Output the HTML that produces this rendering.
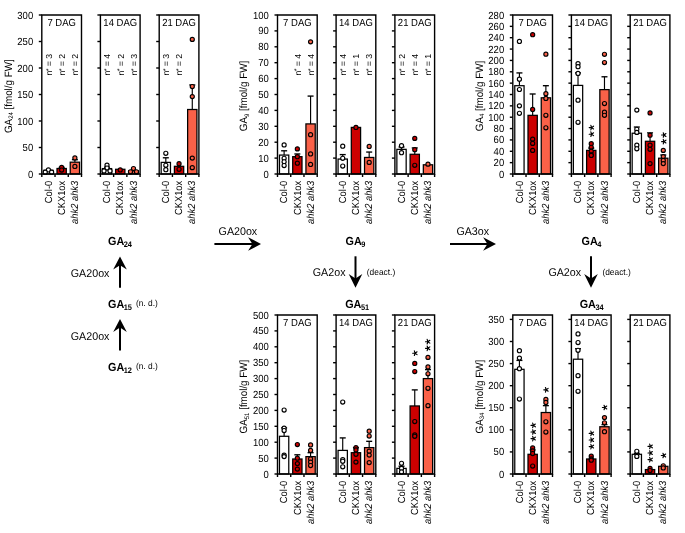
<!DOCTYPE html>
<html><head><meta charset="utf-8"><style>
html,body{margin:0;padding:0;background:#fff;}
svg{display:block;font-family:"Liberation Sans", sans-serif;will-change:transform;text-rendering:geometricPrecision;}
</style></head><body>
<svg width="685" height="533" viewBox="0 0 685 533" font-family='"Liberation Sans", sans-serif' fill="#000">
<rect width="685" height="533" fill="#fff"/>
<rect x="43.77" y="170.29" width="9.3" height="3.71" fill="#ffffff" stroke="#000" stroke-width="1.25"/>
<circle cx="48.42" cy="169.92" r="2.05" fill="#ffffff" stroke="#000" stroke-width="1.15"/>
<circle cx="45.22" cy="172.2" r="2.05" fill="#ffffff" stroke="#000" stroke-width="1.15"/>
<circle cx="51.62" cy="172.2" r="2.05" fill="#ffffff" stroke="#000" stroke-width="1.15"/>
<text transform="translate(51.72,75.5) rotate(-90)" font-size="8.7">n<tspan dy="-1.2" dx="-0.6" font-size="7.2">*</tspan><tspan dy="1.2" dx="-0.3"> = 3</tspan></text>
<line x1="61.65" y1="168.49" x2="61.65" y2="167.38" stroke="#000" stroke-width="1.15"/>
<line x1="58.65" y1="167.38" x2="64.65" y2="167.38" stroke="#000" stroke-width="1.35"/>
<rect x="57" y="168.49" width="9.3" height="5.51" fill="#cc0000" stroke="#000" stroke-width="1.25"/>
<circle cx="61.65" cy="167.38" r="2.05" fill="#cc0000" stroke="#000" stroke-width="1.15"/>
<circle cx="61.65" cy="170.08" r="2.05" fill="#cc0000" stroke="#000" stroke-width="1.15"/>
<text transform="translate(64.95,75.5) rotate(-90)" font-size="8.7">n<tspan dy="-1.2" dx="-0.6" font-size="7.2">*</tspan><tspan dy="1.2" dx="-0.3"> = 2</tspan></text>
<line x1="74.88" y1="162.18" x2="74.88" y2="159.69" stroke="#000" stroke-width="1.15"/>
<line x1="71.88" y1="159.69" x2="77.88" y2="159.69" stroke="#000" stroke-width="1.35"/>
<rect x="70.23" y="162.18" width="9.3" height="11.82" fill="#fa6148" stroke="#000" stroke-width="1.25"/>
<circle cx="74.88" cy="157.99" r="2.05" fill="#fa6148" stroke="#000" stroke-width="1.15"/>
<circle cx="74.88" cy="166.42" r="2.05" fill="#fa6148" stroke="#000" stroke-width="1.15"/>
<text transform="translate(78.18,75.5) rotate(-90)" font-size="8.7">n<tspan dy="-1.2" dx="-0.6" font-size="7.2">*</tspan><tspan dy="1.2" dx="-0.3"> = 2</tspan></text>
<path d="M41.8,174 V15 H81.5 V174 Z" fill="none" stroke="#000" stroke-width="1.4"/>
<line x1="38.8" y1="174" x2="41.8" y2="174" stroke="#000" stroke-width="1.4"/>
<line x1="38.8" y1="147.5" x2="41.8" y2="147.5" stroke="#000" stroke-width="1.4"/>
<line x1="38.8" y1="121" x2="41.8" y2="121" stroke="#000" stroke-width="1.4"/>
<line x1="38.8" y1="94.5" x2="41.8" y2="94.5" stroke="#000" stroke-width="1.4"/>
<line x1="38.8" y1="68" x2="41.8" y2="68" stroke="#000" stroke-width="1.4"/>
<line x1="38.8" y1="41.5" x2="41.8" y2="41.5" stroke="#000" stroke-width="1.4"/>
<line x1="38.8" y1="15" x2="41.8" y2="15" stroke="#000" stroke-width="1.4"/>
<line x1="41.8" y1="174" x2="41.8" y2="177" stroke="#000" stroke-width="1.4"/>
<line x1="55.03" y1="174" x2="55.03" y2="177" stroke="#000" stroke-width="1.4"/>
<line x1="68.27" y1="174" x2="68.27" y2="177" stroke="#000" stroke-width="1.4"/>
<line x1="81.5" y1="174" x2="81.5" y2="177" stroke="#000" stroke-width="1.4"/>
<text transform="translate(61.65,25.8) scale(1,1.08)" font-size="9.5" text-anchor="middle">7 DAG</text>
<text transform="translate(51.62,180.8) rotate(-90) scale(1,1.1)" font-size="9.35" text-anchor="end">Col-0</text>
<text transform="translate(64.85,180.8) rotate(-90) scale(1,1.1)" font-size="9.35" text-anchor="end">CKX1ox</text>
<text transform="translate(78.08,180.8) rotate(-90) scale(1,1.1)" font-size="9.35" text-anchor="end" font-style="italic">ahk2 ahk3</text>
<text transform="translate(33.2,177.5) scale(1,1.08)" font-size="9.5" text-anchor="end">0</text>
<text transform="translate(33.2,151) scale(1,1.08)" font-size="9.5" text-anchor="end">50</text>
<text transform="translate(33.2,124.5) scale(1,1.08)" font-size="9.5" text-anchor="end">100</text>
<text transform="translate(33.2,98) scale(1,1.08)" font-size="9.5" text-anchor="end">150</text>
<text transform="translate(33.2,71.5) scale(1,1.08)" font-size="9.5" text-anchor="end">200</text>
<text transform="translate(33.2,45) scale(1,1.08)" font-size="9.5" text-anchor="end">250</text>
<text transform="translate(33.2,18.5) scale(1,1.08)" font-size="9.5" text-anchor="end">300</text>
<text transform="translate(11.9,133) rotate(-90) scale(1,1.08)" font-size="9.8">GA<tspan font-size="6" dy="1.3">24</tspan><tspan dy="-1.3"> [fmol/g FW]</tspan></text>
<line x1="107.02" y1="168.59" x2="107.02" y2="167.11" stroke="#000" stroke-width="1.15"/>
<line x1="104.02" y1="167.11" x2="110.02" y2="167.11" stroke="#000" stroke-width="1.35"/>
<rect x="102.37" y="168.59" width="9.3" height="5.41" fill="#ffffff" stroke="#000" stroke-width="1.25"/>
<circle cx="107.02" cy="165.1" r="2.05" fill="#ffffff" stroke="#000" stroke-width="1.15"/>
<circle cx="107.02" cy="168.01" r="2.05" fill="#ffffff" stroke="#000" stroke-width="1.15"/>
<circle cx="104.02" cy="170.93" r="2.05" fill="#ffffff" stroke="#000" stroke-width="1.15"/>
<circle cx="110.02" cy="170.93" r="2.05" fill="#ffffff" stroke="#000" stroke-width="1.15"/>
<text transform="translate(110.32,75.5) rotate(-90)" font-size="8.7">n<tspan dy="-1.2" dx="-0.6" font-size="7.2">*</tspan><tspan dy="1.2" dx="-0.3"> = 4</tspan></text>
<rect x="115.6" y="169.28" width="9.3" height="4.72" fill="#cc0000" stroke="#000" stroke-width="1.25"/>
<circle cx="120.25" cy="169.92" r="2.05" fill="#cc0000" stroke="#000" stroke-width="1.15"/>
<text transform="translate(123.55,75.5) rotate(-90)" font-size="8.7">n<tspan dy="-1.2" dx="-0.6" font-size="7.2">*</tspan><tspan dy="1.2" dx="-0.3"> = 2</tspan></text>
<rect x="128.83" y="170.61" width="9.3" height="3.39" fill="#fa6148" stroke="#000" stroke-width="1.25"/>
<circle cx="133.48" cy="168.59" r="2.05" fill="#fa6148" stroke="#000" stroke-width="1.15"/>
<circle cx="130.48" cy="171.77" r="2.05" fill="#fa6148" stroke="#000" stroke-width="1.15"/>
<circle cx="136.48" cy="171.77" r="2.05" fill="#fa6148" stroke="#000" stroke-width="1.15"/>
<text transform="translate(136.78,75.5) rotate(-90)" font-size="8.7">n<tspan dy="-1.2" dx="-0.6" font-size="7.2">*</tspan><tspan dy="1.2" dx="-0.3"> = 3</tspan></text>
<path d="M100.4,174 V15 H140.1 V174 Z" fill="none" stroke="#000" stroke-width="1.4"/>
<line x1="97.4" y1="174" x2="100.4" y2="174" stroke="#000" stroke-width="1.4"/>
<line x1="97.4" y1="147.5" x2="100.4" y2="147.5" stroke="#000" stroke-width="1.4"/>
<line x1="97.4" y1="121" x2="100.4" y2="121" stroke="#000" stroke-width="1.4"/>
<line x1="97.4" y1="94.5" x2="100.4" y2="94.5" stroke="#000" stroke-width="1.4"/>
<line x1="97.4" y1="68" x2="100.4" y2="68" stroke="#000" stroke-width="1.4"/>
<line x1="97.4" y1="41.5" x2="100.4" y2="41.5" stroke="#000" stroke-width="1.4"/>
<line x1="97.4" y1="15" x2="100.4" y2="15" stroke="#000" stroke-width="1.4"/>
<line x1="100.4" y1="174" x2="100.4" y2="177" stroke="#000" stroke-width="1.4"/>
<line x1="113.63" y1="174" x2="113.63" y2="177" stroke="#000" stroke-width="1.4"/>
<line x1="126.87" y1="174" x2="126.87" y2="177" stroke="#000" stroke-width="1.4"/>
<line x1="140.1" y1="174" x2="140.1" y2="177" stroke="#000" stroke-width="1.4"/>
<text transform="translate(120.25,25.8) scale(1,1.08)" font-size="9.5" text-anchor="middle">14 DAG</text>
<text transform="translate(110.22,180.8) rotate(-90) scale(1,1.1)" font-size="9.35" text-anchor="end">Col-0</text>
<text transform="translate(123.45,180.8) rotate(-90) scale(1,1.1)" font-size="9.35" text-anchor="end">CKX1ox</text>
<text transform="translate(136.68,180.8) rotate(-90) scale(1,1.1)" font-size="9.35" text-anchor="end" font-style="italic">ahk2 ahk3</text>
<line x1="165.82" y1="162.39" x2="165.82" y2="157.78" stroke="#000" stroke-width="1.15"/>
<line x1="162.82" y1="157.78" x2="168.82" y2="157.78" stroke="#000" stroke-width="1.35"/>
<rect x="161.17" y="162.39" width="9.3" height="11.61" fill="#ffffff" stroke="#000" stroke-width="1.25"/>
<circle cx="165.82" cy="153.33" r="2.05" fill="#ffffff" stroke="#000" stroke-width="1.15"/>
<circle cx="165.82" cy="165.31" r="2.05" fill="#ffffff" stroke="#000" stroke-width="1.15"/>
<circle cx="165.82" cy="169.71" r="2.05" fill="#ffffff" stroke="#000" stroke-width="1.15"/>
<text transform="translate(169.12,75.5) rotate(-90)" font-size="8.7">n<tspan dy="-1.2" dx="-0.6" font-size="7.2">*</tspan><tspan dy="1.2" dx="-0.3"> = 3</tspan></text>
<rect x="174.4" y="166.31" width="9.3" height="7.69" fill="#cc0000" stroke="#000" stroke-width="1.25"/>
<circle cx="179.05" cy="163.72" r="2.05" fill="#cc0000" stroke="#000" stroke-width="1.15"/>
<circle cx="179.05" cy="169.28" r="2.05" fill="#cc0000" stroke="#000" stroke-width="1.15"/>
<text transform="translate(182.35,75.5) rotate(-90)" font-size="8.7">n<tspan dy="-1.2" dx="-0.6" font-size="7.2">*</tspan><tspan dy="1.2" dx="-0.3"> = 2</tspan></text>
<line x1="192.28" y1="109.5" x2="192.28" y2="84.96" stroke="#000" stroke-width="1.15"/>
<line x1="189.28" y1="84.96" x2="195.28" y2="84.96" stroke="#000" stroke-width="1.35"/>
<rect x="187.63" y="109.5" width="9.3" height="64.5" fill="#fa6148" stroke="#000" stroke-width="1.25"/>
<circle cx="192.28" cy="39.38" r="2.05" fill="#fa6148" stroke="#000" stroke-width="1.15"/>
<circle cx="192.28" cy="86.55" r="2.05" fill="#fa6148" stroke="#000" stroke-width="1.15"/>
<circle cx="192.28" cy="96.62" r="2.05" fill="#fa6148" stroke="#000" stroke-width="1.15"/>
<circle cx="192.28" cy="158.1" r="2.05" fill="#fa6148" stroke="#000" stroke-width="1.15"/>
<circle cx="192.28" cy="167.64" r="2.05" fill="#fa6148" stroke="#000" stroke-width="1.15"/>
<path d="M159.2,174 V15 H198.9 V174 Z" fill="none" stroke="#000" stroke-width="1.4"/>
<line x1="156.2" y1="174" x2="159.2" y2="174" stroke="#000" stroke-width="1.4"/>
<line x1="156.2" y1="147.5" x2="159.2" y2="147.5" stroke="#000" stroke-width="1.4"/>
<line x1="156.2" y1="121" x2="159.2" y2="121" stroke="#000" stroke-width="1.4"/>
<line x1="156.2" y1="94.5" x2="159.2" y2="94.5" stroke="#000" stroke-width="1.4"/>
<line x1="156.2" y1="68" x2="159.2" y2="68" stroke="#000" stroke-width="1.4"/>
<line x1="156.2" y1="41.5" x2="159.2" y2="41.5" stroke="#000" stroke-width="1.4"/>
<line x1="156.2" y1="15" x2="159.2" y2="15" stroke="#000" stroke-width="1.4"/>
<line x1="159.2" y1="174" x2="159.2" y2="177" stroke="#000" stroke-width="1.4"/>
<line x1="172.43" y1="174" x2="172.43" y2="177" stroke="#000" stroke-width="1.4"/>
<line x1="185.67" y1="174" x2="185.67" y2="177" stroke="#000" stroke-width="1.4"/>
<line x1="198.9" y1="174" x2="198.9" y2="177" stroke="#000" stroke-width="1.4"/>
<text transform="translate(179.05,25.8) scale(1,1.08)" font-size="9.5" text-anchor="middle">21 DAG</text>
<text transform="translate(169.02,180.8) rotate(-90) scale(1,1.1)" font-size="9.35" text-anchor="end">Col-0</text>
<text transform="translate(182.25,180.8) rotate(-90) scale(1,1.1)" font-size="9.35" text-anchor="end">CKX1ox</text>
<text transform="translate(195.48,180.8) rotate(-90) scale(1,1.1)" font-size="9.35" text-anchor="end" font-style="italic">ahk2 ahk3</text>
<line x1="284.12" y1="155.08" x2="284.12" y2="150.79" stroke="#000" stroke-width="1.15"/>
<line x1="281.12" y1="150.79" x2="287.12" y2="150.79" stroke="#000" stroke-width="1.35"/>
<rect x="279.47" y="155.08" width="9.3" height="18.92" fill="#ffffff" stroke="#000" stroke-width="1.25"/>
<circle cx="284.12" cy="144.9" r="2.05" fill="#ffffff" stroke="#000" stroke-width="1.15"/>
<circle cx="284.12" cy="158.26" r="2.05" fill="#ffffff" stroke="#000" stroke-width="1.15"/>
<circle cx="284.12" cy="161.76" r="2.05" fill="#ffffff" stroke="#000" stroke-width="1.15"/>
<circle cx="284.12" cy="165.57" r="2.05" fill="#ffffff" stroke="#000" stroke-width="1.15"/>
<line x1="297.35" y1="156.67" x2="297.35" y2="153.97" stroke="#000" stroke-width="1.15"/>
<line x1="294.35" y1="153.97" x2="300.35" y2="153.97" stroke="#000" stroke-width="1.35"/>
<rect x="292.7" y="156.67" width="9.3" height="17.33" fill="#cc0000" stroke="#000" stroke-width="1.25"/>
<circle cx="297.35" cy="148.88" r="2.05" fill="#cc0000" stroke="#000" stroke-width="1.15"/>
<circle cx="297.35" cy="156.67" r="2.05" fill="#cc0000" stroke="#000" stroke-width="1.15"/>
<circle cx="297.35" cy="163.19" r="2.05" fill="#cc0000" stroke="#000" stroke-width="1.15"/>
<text transform="translate(300.65,75.5) rotate(-90)" font-size="8.7">n<tspan dy="-1.2" dx="-0.6" font-size="7.2">*</tspan><tspan dy="1.2" dx="-0.3"> = 4</tspan></text>
<line x1="310.58" y1="123.91" x2="310.58" y2="96.09" stroke="#000" stroke-width="1.15"/>
<line x1="307.58" y1="96.09" x2="313.58" y2="96.09" stroke="#000" stroke-width="1.35"/>
<rect x="305.93" y="123.91" width="9.3" height="50.09" fill="#fa6148" stroke="#000" stroke-width="1.25"/>
<circle cx="310.58" cy="41.87" r="2.05" fill="#fa6148" stroke="#000" stroke-width="1.15"/>
<circle cx="310.58" cy="134.73" r="2.05" fill="#fa6148" stroke="#000" stroke-width="1.15"/>
<circle cx="310.58" cy="153.97" r="2.05" fill="#fa6148" stroke="#000" stroke-width="1.15"/>
<circle cx="310.58" cy="164.46" r="2.05" fill="#fa6148" stroke="#000" stroke-width="1.15"/>
<text transform="translate(313.88,75.5) rotate(-90)" font-size="8.7">n<tspan dy="-1.2" dx="-0.6" font-size="7.2">*</tspan><tspan dy="1.2" dx="-0.3"> = 4</tspan></text>
<path d="M277.5,174 V15 H317.2 V174 Z" fill="none" stroke="#000" stroke-width="1.4"/>
<line x1="274.5" y1="174" x2="277.5" y2="174" stroke="#000" stroke-width="1.4"/>
<line x1="274.5" y1="158.1" x2="277.5" y2="158.1" stroke="#000" stroke-width="1.4"/>
<line x1="274.5" y1="142.2" x2="277.5" y2="142.2" stroke="#000" stroke-width="1.4"/>
<line x1="274.5" y1="126.3" x2="277.5" y2="126.3" stroke="#000" stroke-width="1.4"/>
<line x1="274.5" y1="110.4" x2="277.5" y2="110.4" stroke="#000" stroke-width="1.4"/>
<line x1="274.5" y1="94.5" x2="277.5" y2="94.5" stroke="#000" stroke-width="1.4"/>
<line x1="274.5" y1="78.6" x2="277.5" y2="78.6" stroke="#000" stroke-width="1.4"/>
<line x1="274.5" y1="62.7" x2="277.5" y2="62.7" stroke="#000" stroke-width="1.4"/>
<line x1="274.5" y1="46.8" x2="277.5" y2="46.8" stroke="#000" stroke-width="1.4"/>
<line x1="274.5" y1="30.9" x2="277.5" y2="30.9" stroke="#000" stroke-width="1.4"/>
<line x1="274.5" y1="15" x2="277.5" y2="15" stroke="#000" stroke-width="1.4"/>
<line x1="277.5" y1="174" x2="277.5" y2="177" stroke="#000" stroke-width="1.4"/>
<line x1="290.73" y1="174" x2="290.73" y2="177" stroke="#000" stroke-width="1.4"/>
<line x1="303.97" y1="174" x2="303.97" y2="177" stroke="#000" stroke-width="1.4"/>
<line x1="317.2" y1="174" x2="317.2" y2="177" stroke="#000" stroke-width="1.4"/>
<text transform="translate(297.35,25.8) scale(1,1.08)" font-size="9.5" text-anchor="middle">7 DAG</text>
<text transform="translate(287.32,180.8) rotate(-90) scale(1,1.1)" font-size="9.35" text-anchor="end">Col-0</text>
<text transform="translate(300.55,180.8) rotate(-90) scale(1,1.1)" font-size="9.35" text-anchor="end">CKX1ox</text>
<text transform="translate(313.78,180.8) rotate(-90) scale(1,1.1)" font-size="9.35" text-anchor="end" font-style="italic">ahk2 ahk3</text>
<text transform="translate(268.9,177.5) scale(1,1.08)" font-size="9.5" text-anchor="end">0</text>
<text transform="translate(268.9,161.6) scale(1,1.08)" font-size="9.5" text-anchor="end">10</text>
<text transform="translate(268.9,145.7) scale(1,1.08)" font-size="9.5" text-anchor="end">20</text>
<text transform="translate(268.9,129.8) scale(1,1.08)" font-size="9.5" text-anchor="end">30</text>
<text transform="translate(268.9,113.9) scale(1,1.08)" font-size="9.5" text-anchor="end">40</text>
<text transform="translate(268.9,98) scale(1,1.08)" font-size="9.5" text-anchor="end">50</text>
<text transform="translate(268.9,82.1) scale(1,1.08)" font-size="9.5" text-anchor="end">60</text>
<text transform="translate(268.9,66.2) scale(1,1.08)" font-size="9.5" text-anchor="end">70</text>
<text transform="translate(268.9,50.3) scale(1,1.08)" font-size="9.5" text-anchor="end">80</text>
<text transform="translate(268.9,34.4) scale(1,1.08)" font-size="9.5" text-anchor="end">90</text>
<text transform="translate(268.9,18.5) scale(1,1.08)" font-size="9.5" text-anchor="end">100</text>
<text transform="translate(247.4,131.2) rotate(-90) scale(1,1.08)" font-size="9.8">GA<tspan font-size="6" dy="1.3">9</tspan><tspan dy="-1.3"> [fmol/g FW]</tspan></text>
<line x1="342.72" y1="159.05" x2="342.72" y2="154.6" stroke="#000" stroke-width="1.15"/>
<line x1="339.72" y1="154.6" x2="345.72" y2="154.6" stroke="#000" stroke-width="1.35"/>
<rect x="338.07" y="159.05" width="9.3" height="14.95" fill="#ffffff" stroke="#000" stroke-width="1.25"/>
<circle cx="342.72" cy="146.18" r="2.05" fill="#ffffff" stroke="#000" stroke-width="1.15"/>
<circle cx="342.72" cy="158.26" r="2.05" fill="#ffffff" stroke="#000" stroke-width="1.15"/>
<circle cx="342.72" cy="166.05" r="2.05" fill="#ffffff" stroke="#000" stroke-width="1.15"/>
<text transform="translate(346.02,75.5) rotate(-90)" font-size="8.7">n<tspan dy="-1.2" dx="-0.6" font-size="7.2">*</tspan><tspan dy="1.2" dx="-0.3"> = 4</tspan></text>
<rect x="351.3" y="127.41" width="9.3" height="46.59" fill="#cc0000" stroke="#000" stroke-width="1.25"/>
<circle cx="355.95" cy="127.41" r="2.05" fill="#cc0000" stroke="#000" stroke-width="1.15"/>
<text transform="translate(359.25,75.5) rotate(-90)" font-size="8.7">n<tspan dy="-1.2" dx="-0.6" font-size="7.2">*</tspan><tspan dy="1.2" dx="-0.3"> = 1</tspan></text>
<line x1="369.18" y1="157.46" x2="369.18" y2="152.06" stroke="#000" stroke-width="1.15"/>
<line x1="366.18" y1="152.06" x2="372.18" y2="152.06" stroke="#000" stroke-width="1.35"/>
<rect x="364.53" y="157.46" width="9.3" height="16.54" fill="#fa6148" stroke="#000" stroke-width="1.25"/>
<circle cx="369.18" cy="146.49" r="2.05" fill="#fa6148" stroke="#000" stroke-width="1.15"/>
<circle cx="369.18" cy="162.39" r="2.05" fill="#fa6148" stroke="#000" stroke-width="1.15"/>
<text transform="translate(372.48,75.5) rotate(-90)" font-size="8.7">n<tspan dy="-1.2" dx="-0.6" font-size="7.2">*</tspan><tspan dy="1.2" dx="-0.3"> = 3</tspan></text>
<path d="M336.1,174 V15 H375.8 V174 Z" fill="none" stroke="#000" stroke-width="1.4"/>
<line x1="333.1" y1="174" x2="336.1" y2="174" stroke="#000" stroke-width="1.4"/>
<line x1="333.1" y1="158.1" x2="336.1" y2="158.1" stroke="#000" stroke-width="1.4"/>
<line x1="333.1" y1="142.2" x2="336.1" y2="142.2" stroke="#000" stroke-width="1.4"/>
<line x1="333.1" y1="126.3" x2="336.1" y2="126.3" stroke="#000" stroke-width="1.4"/>
<line x1="333.1" y1="110.4" x2="336.1" y2="110.4" stroke="#000" stroke-width="1.4"/>
<line x1="333.1" y1="94.5" x2="336.1" y2="94.5" stroke="#000" stroke-width="1.4"/>
<line x1="333.1" y1="78.6" x2="336.1" y2="78.6" stroke="#000" stroke-width="1.4"/>
<line x1="333.1" y1="62.7" x2="336.1" y2="62.7" stroke="#000" stroke-width="1.4"/>
<line x1="333.1" y1="46.8" x2="336.1" y2="46.8" stroke="#000" stroke-width="1.4"/>
<line x1="333.1" y1="30.9" x2="336.1" y2="30.9" stroke="#000" stroke-width="1.4"/>
<line x1="333.1" y1="15" x2="336.1" y2="15" stroke="#000" stroke-width="1.4"/>
<line x1="336.1" y1="174" x2="336.1" y2="177" stroke="#000" stroke-width="1.4"/>
<line x1="349.33" y1="174" x2="349.33" y2="177" stroke="#000" stroke-width="1.4"/>
<line x1="362.57" y1="174" x2="362.57" y2="177" stroke="#000" stroke-width="1.4"/>
<line x1="375.8" y1="174" x2="375.8" y2="177" stroke="#000" stroke-width="1.4"/>
<text transform="translate(355.95,25.8) scale(1,1.08)" font-size="9.5" text-anchor="middle">14 DAG</text>
<text transform="translate(345.92,180.8) rotate(-90) scale(1,1.1)" font-size="9.35" text-anchor="end">Col-0</text>
<text transform="translate(359.15,180.8) rotate(-90) scale(1,1.1)" font-size="9.35" text-anchor="end">CKX1ox</text>
<text transform="translate(372.38,180.8) rotate(-90) scale(1,1.1)" font-size="9.35" text-anchor="end" font-style="italic">ahk2 ahk3</text>
<line x1="401.52" y1="149.35" x2="401.52" y2="146.97" stroke="#000" stroke-width="1.15"/>
<line x1="398.52" y1="146.97" x2="404.52" y2="146.97" stroke="#000" stroke-width="1.35"/>
<rect x="396.87" y="149.35" width="9.3" height="24.65" fill="#ffffff" stroke="#000" stroke-width="1.25"/>
<circle cx="401.52" cy="145.7" r="2.05" fill="#ffffff" stroke="#000" stroke-width="1.15"/>
<circle cx="401.52" cy="152.69" r="2.05" fill="#ffffff" stroke="#000" stroke-width="1.15"/>
<text transform="translate(404.82,75.5) rotate(-90)" font-size="8.7">n<tspan dy="-1.2" dx="-0.6" font-size="7.2">*</tspan><tspan dy="1.2" dx="-0.3"> = 2</tspan></text>
<line x1="414.75" y1="154.28" x2="414.75" y2="147.92" stroke="#000" stroke-width="1.15"/>
<line x1="411.75" y1="147.92" x2="417.75" y2="147.92" stroke="#000" stroke-width="1.35"/>
<rect x="410.1" y="154.28" width="9.3" height="19.72" fill="#cc0000" stroke="#000" stroke-width="1.25"/>
<circle cx="414.75" cy="138.38" r="2.05" fill="#cc0000" stroke="#000" stroke-width="1.15"/>
<circle cx="414.75" cy="149.67" r="2.05" fill="#cc0000" stroke="#000" stroke-width="1.15"/>
<circle cx="414.75" cy="165.25" r="2.05" fill="#cc0000" stroke="#000" stroke-width="1.15"/>
<text transform="translate(418.05,75.5) rotate(-90)" font-size="8.7">n<tspan dy="-1.2" dx="-0.6" font-size="7.2">*</tspan><tspan dy="1.2" dx="-0.3"> = 4</tspan></text>
<rect x="423.33" y="164.78" width="9.3" height="9.22" fill="#fa6148" stroke="#000" stroke-width="1.25"/>
<circle cx="427.98" cy="164.14" r="2.05" fill="#fa6148" stroke="#000" stroke-width="1.15"/>
<text transform="translate(431.28,75.5) rotate(-90)" font-size="8.7">n<tspan dy="-1.2" dx="-0.6" font-size="7.2">*</tspan><tspan dy="1.2" dx="-0.3"> = 1</tspan></text>
<path d="M394.9,174 V15 H434.6 V174 Z" fill="none" stroke="#000" stroke-width="1.4"/>
<line x1="391.9" y1="174" x2="394.9" y2="174" stroke="#000" stroke-width="1.4"/>
<line x1="391.9" y1="158.1" x2="394.9" y2="158.1" stroke="#000" stroke-width="1.4"/>
<line x1="391.9" y1="142.2" x2="394.9" y2="142.2" stroke="#000" stroke-width="1.4"/>
<line x1="391.9" y1="126.3" x2="394.9" y2="126.3" stroke="#000" stroke-width="1.4"/>
<line x1="391.9" y1="110.4" x2="394.9" y2="110.4" stroke="#000" stroke-width="1.4"/>
<line x1="391.9" y1="94.5" x2="394.9" y2="94.5" stroke="#000" stroke-width="1.4"/>
<line x1="391.9" y1="78.6" x2="394.9" y2="78.6" stroke="#000" stroke-width="1.4"/>
<line x1="391.9" y1="62.7" x2="394.9" y2="62.7" stroke="#000" stroke-width="1.4"/>
<line x1="391.9" y1="46.8" x2="394.9" y2="46.8" stroke="#000" stroke-width="1.4"/>
<line x1="391.9" y1="30.9" x2="394.9" y2="30.9" stroke="#000" stroke-width="1.4"/>
<line x1="391.9" y1="15" x2="394.9" y2="15" stroke="#000" stroke-width="1.4"/>
<line x1="394.9" y1="174" x2="394.9" y2="177" stroke="#000" stroke-width="1.4"/>
<line x1="408.13" y1="174" x2="408.13" y2="177" stroke="#000" stroke-width="1.4"/>
<line x1="421.37" y1="174" x2="421.37" y2="177" stroke="#000" stroke-width="1.4"/>
<line x1="434.6" y1="174" x2="434.6" y2="177" stroke="#000" stroke-width="1.4"/>
<text transform="translate(414.75,25.8) scale(1,1.08)" font-size="9.5" text-anchor="middle">21 DAG</text>
<text transform="translate(404.72,180.8) rotate(-90) scale(1,1.1)" font-size="9.35" text-anchor="end">Col-0</text>
<text transform="translate(417.95,180.8) rotate(-90) scale(1,1.1)" font-size="9.35" text-anchor="end">CKX1ox</text>
<text transform="translate(431.18,180.8) rotate(-90) scale(1,1.1)" font-size="9.35" text-anchor="end" font-style="italic">ahk2 ahk3</text>
<line x1="519.42" y1="85.7" x2="519.42" y2="72.92" stroke="#000" stroke-width="1.15"/>
<line x1="516.42" y1="72.92" x2="522.42" y2="72.92" stroke="#000" stroke-width="1.35"/>
<rect x="514.77" y="85.7" width="9.3" height="88.3" fill="#ffffff" stroke="#000" stroke-width="1.25"/>
<circle cx="519.42" cy="41.41" r="2.05" fill="#ffffff" stroke="#000" stroke-width="1.15"/>
<circle cx="519.42" cy="79.17" r="2.05" fill="#ffffff" stroke="#000" stroke-width="1.15"/>
<circle cx="519.42" cy="89.5" r="2.05" fill="#ffffff" stroke="#000" stroke-width="1.15"/>
<circle cx="519.42" cy="105.86" r="2.05" fill="#ffffff" stroke="#000" stroke-width="1.15"/>
<circle cx="519.42" cy="113.3" r="2.05" fill="#ffffff" stroke="#000" stroke-width="1.15"/>
<line x1="532.65" y1="115.34" x2="532.65" y2="93.99" stroke="#000" stroke-width="1.15"/>
<line x1="529.65" y1="93.99" x2="535.65" y2="93.99" stroke="#000" stroke-width="1.35"/>
<rect x="528" y="115.34" width="9.3" height="58.66" fill="#cc0000" stroke="#000" stroke-width="1.25"/>
<circle cx="532.65" cy="34.7" r="2.05" fill="#cc0000" stroke="#000" stroke-width="1.15"/>
<circle cx="532.65" cy="109.43" r="2.05" fill="#cc0000" stroke="#000" stroke-width="1.15"/>
<circle cx="532.65" cy="139.13" r="2.05" fill="#cc0000" stroke="#000" stroke-width="1.15"/>
<circle cx="532.65" cy="143.39" r="2.05" fill="#cc0000" stroke="#000" stroke-width="1.15"/>
<circle cx="532.65" cy="150.38" r="2.05" fill="#cc0000" stroke="#000" stroke-width="1.15"/>
<line x1="545.88" y1="97.79" x2="545.88" y2="85.7" stroke="#000" stroke-width="1.15"/>
<line x1="542.88" y1="85.7" x2="548.88" y2="85.7" stroke="#000" stroke-width="1.35"/>
<rect x="541.23" y="97.79" width="9.3" height="76.21" fill="#fa6148" stroke="#000" stroke-width="1.25"/>
<circle cx="545.88" cy="54.18" r="2.05" fill="#fa6148" stroke="#000" stroke-width="1.15"/>
<circle cx="545.88" cy="93.7" r="2.05" fill="#fa6148" stroke="#000" stroke-width="1.15"/>
<circle cx="545.88" cy="98.47" r="2.05" fill="#fa6148" stroke="#000" stroke-width="1.15"/>
<circle cx="545.88" cy="115.34" r="2.05" fill="#fa6148" stroke="#000" stroke-width="1.15"/>
<circle cx="545.88" cy="127.78" r="2.05" fill="#fa6148" stroke="#000" stroke-width="1.15"/>
<path d="M512.8,174 V15 H552.5 V174 Z" fill="none" stroke="#000" stroke-width="1.4"/>
<line x1="509.8" y1="174" x2="512.8" y2="174" stroke="#000" stroke-width="1.4"/>
<line x1="509.8" y1="162.64" x2="512.8" y2="162.64" stroke="#000" stroke-width="1.4"/>
<line x1="509.8" y1="151.29" x2="512.8" y2="151.29" stroke="#000" stroke-width="1.4"/>
<line x1="509.8" y1="139.93" x2="512.8" y2="139.93" stroke="#000" stroke-width="1.4"/>
<line x1="509.8" y1="128.57" x2="512.8" y2="128.57" stroke="#000" stroke-width="1.4"/>
<line x1="509.8" y1="117.21" x2="512.8" y2="117.21" stroke="#000" stroke-width="1.4"/>
<line x1="509.8" y1="105.86" x2="512.8" y2="105.86" stroke="#000" stroke-width="1.4"/>
<line x1="509.8" y1="94.5" x2="512.8" y2="94.5" stroke="#000" stroke-width="1.4"/>
<line x1="509.8" y1="83.14" x2="512.8" y2="83.14" stroke="#000" stroke-width="1.4"/>
<line x1="509.8" y1="71.79" x2="512.8" y2="71.79" stroke="#000" stroke-width="1.4"/>
<line x1="509.8" y1="60.43" x2="512.8" y2="60.43" stroke="#000" stroke-width="1.4"/>
<line x1="509.8" y1="49.07" x2="512.8" y2="49.07" stroke="#000" stroke-width="1.4"/>
<line x1="509.8" y1="37.71" x2="512.8" y2="37.71" stroke="#000" stroke-width="1.4"/>
<line x1="509.8" y1="26.36" x2="512.8" y2="26.36" stroke="#000" stroke-width="1.4"/>
<line x1="509.8" y1="15" x2="512.8" y2="15" stroke="#000" stroke-width="1.4"/>
<line x1="512.8" y1="174" x2="512.8" y2="177" stroke="#000" stroke-width="1.4"/>
<line x1="526.03" y1="174" x2="526.03" y2="177" stroke="#000" stroke-width="1.4"/>
<line x1="539.27" y1="174" x2="539.27" y2="177" stroke="#000" stroke-width="1.4"/>
<line x1="552.5" y1="174" x2="552.5" y2="177" stroke="#000" stroke-width="1.4"/>
<text transform="translate(532.65,25.8) scale(1,1.08)" font-size="9.5" text-anchor="middle">7 DAG</text>
<text transform="translate(522.62,180.8) rotate(-90) scale(1,1.1)" font-size="9.35" text-anchor="end">Col-0</text>
<text transform="translate(535.85,180.8) rotate(-90) scale(1,1.1)" font-size="9.35" text-anchor="end">CKX1ox</text>
<text transform="translate(549.08,180.8) rotate(-90) scale(1,1.1)" font-size="9.35" text-anchor="end" font-style="italic">ahk2 ahk3</text>
<text transform="translate(504.2,177.5) scale(1,1.08)" font-size="9.5" text-anchor="end">0</text>
<text transform="translate(504.2,166.14) scale(1,1.08)" font-size="9.5" text-anchor="end">20</text>
<text transform="translate(504.2,154.79) scale(1,1.08)" font-size="9.5" text-anchor="end">40</text>
<text transform="translate(504.2,143.43) scale(1,1.08)" font-size="9.5" text-anchor="end">60</text>
<text transform="translate(504.2,132.07) scale(1,1.08)" font-size="9.5" text-anchor="end">80</text>
<text transform="translate(504.2,120.71) scale(1,1.08)" font-size="9.5" text-anchor="end">100</text>
<text transform="translate(504.2,109.36) scale(1,1.08)" font-size="9.5" text-anchor="end">120</text>
<text transform="translate(504.2,98) scale(1,1.08)" font-size="9.5" text-anchor="end">140</text>
<text transform="translate(504.2,86.64) scale(1,1.08)" font-size="9.5" text-anchor="end">160</text>
<text transform="translate(504.2,75.29) scale(1,1.08)" font-size="9.5" text-anchor="end">180</text>
<text transform="translate(504.2,63.93) scale(1,1.08)" font-size="9.5" text-anchor="end">200</text>
<text transform="translate(504.2,52.57) scale(1,1.08)" font-size="9.5" text-anchor="end">220</text>
<text transform="translate(504.2,41.21) scale(1,1.08)" font-size="9.5" text-anchor="end">240</text>
<text transform="translate(504.2,29.86) scale(1,1.08)" font-size="9.5" text-anchor="end">260</text>
<text transform="translate(504.2,18.5) scale(1,1.08)" font-size="9.5" text-anchor="end">280</text>
<text transform="translate(482.7,131.2) rotate(-90) scale(1,1.08)" font-size="9.8">GA<tspan font-size="6" dy="1.3">4</tspan><tspan dy="-1.3"> [fmol/g FW]</tspan></text>
<line x1="578.02" y1="85.41" x2="578.02" y2="72.92" stroke="#000" stroke-width="1.15"/>
<line x1="575.02" y1="72.92" x2="581.02" y2="72.92" stroke="#000" stroke-width="1.35"/>
<rect x="573.37" y="85.41" width="9.3" height="88.59" fill="#ffffff" stroke="#000" stroke-width="1.25"/>
<circle cx="578.02" cy="63.61" r="2.05" fill="#ffffff" stroke="#000" stroke-width="1.15"/>
<circle cx="578.02" cy="66.67" r="2.05" fill="#ffffff" stroke="#000" stroke-width="1.15"/>
<circle cx="578.02" cy="73.49" r="2.05" fill="#ffffff" stroke="#000" stroke-width="1.15"/>
<circle cx="578.02" cy="100.18" r="2.05" fill="#ffffff" stroke="#000" stroke-width="1.15"/>
<circle cx="578.02" cy="122.33" r="2.05" fill="#ffffff" stroke="#000" stroke-width="1.15"/>
<line x1="591.25" y1="150.38" x2="591.25" y2="148.11" stroke="#000" stroke-width="1.15"/>
<line x1="588.25" y1="148.11" x2="594.25" y2="148.11" stroke="#000" stroke-width="1.35"/>
<rect x="586.6" y="150.38" width="9.3" height="23.62" fill="#cc0000" stroke="#000" stroke-width="1.25"/>
<circle cx="591.25" cy="143.68" r="2.05" fill="#cc0000" stroke="#000" stroke-width="1.15"/>
<circle cx="591.25" cy="147.31" r="2.05" fill="#cc0000" stroke="#000" stroke-width="1.15"/>
<circle cx="591.25" cy="151.23" r="2.05" fill="#cc0000" stroke="#000" stroke-width="1.15"/>
<circle cx="591.25" cy="154.81" r="2.05" fill="#cc0000" stroke="#000" stroke-width="1.15"/>
<circle cx="591.25" cy="155.49" r="2.05" fill="#cc0000" stroke="#000" stroke-width="1.15"/>
<path d="M591.60,127.60l-2.40,-0.00M591.60,127.60l-0.74,-2.28M591.60,127.60l1.94,-1.41M591.60,127.60l1.94,1.41M591.60,127.60l-0.74,2.28" stroke="#000" stroke-width="1.15" stroke-linecap="round" fill="none"/>
<path d="M591.60,134.20l-2.40,-0.00M591.60,134.20l-0.74,-2.28M591.60,134.20l1.94,-1.41M591.60,134.20l1.94,1.41M591.60,134.20l-0.74,2.28" stroke="#000" stroke-width="1.15" stroke-linecap="round" fill="none"/>
<line x1="604.48" y1="89.62" x2="604.48" y2="76.78" stroke="#000" stroke-width="1.15"/>
<line x1="601.48" y1="76.78" x2="607.48" y2="76.78" stroke="#000" stroke-width="1.35"/>
<rect x="599.83" y="89.62" width="9.3" height="84.38" fill="#fa6148" stroke="#000" stroke-width="1.25"/>
<circle cx="604.48" cy="54.3" r="2.05" fill="#fa6148" stroke="#000" stroke-width="1.15"/>
<circle cx="604.48" cy="62.59" r="2.05" fill="#fa6148" stroke="#000" stroke-width="1.15"/>
<circle cx="604.48" cy="103.59" r="2.05" fill="#fa6148" stroke="#000" stroke-width="1.15"/>
<circle cx="604.48" cy="112.22" r="2.05" fill="#fa6148" stroke="#000" stroke-width="1.15"/>
<circle cx="604.48" cy="115.28" r="2.05" fill="#fa6148" stroke="#000" stroke-width="1.15"/>
<path d="M571.4,174 V15 H611.1 V174 Z" fill="none" stroke="#000" stroke-width="1.4"/>
<line x1="568.4" y1="174" x2="571.4" y2="174" stroke="#000" stroke-width="1.4"/>
<line x1="568.4" y1="162.64" x2="571.4" y2="162.64" stroke="#000" stroke-width="1.4"/>
<line x1="568.4" y1="151.29" x2="571.4" y2="151.29" stroke="#000" stroke-width="1.4"/>
<line x1="568.4" y1="139.93" x2="571.4" y2="139.93" stroke="#000" stroke-width="1.4"/>
<line x1="568.4" y1="128.57" x2="571.4" y2="128.57" stroke="#000" stroke-width="1.4"/>
<line x1="568.4" y1="117.21" x2="571.4" y2="117.21" stroke="#000" stroke-width="1.4"/>
<line x1="568.4" y1="105.86" x2="571.4" y2="105.86" stroke="#000" stroke-width="1.4"/>
<line x1="568.4" y1="94.5" x2="571.4" y2="94.5" stroke="#000" stroke-width="1.4"/>
<line x1="568.4" y1="83.14" x2="571.4" y2="83.14" stroke="#000" stroke-width="1.4"/>
<line x1="568.4" y1="71.79" x2="571.4" y2="71.79" stroke="#000" stroke-width="1.4"/>
<line x1="568.4" y1="60.43" x2="571.4" y2="60.43" stroke="#000" stroke-width="1.4"/>
<line x1="568.4" y1="49.07" x2="571.4" y2="49.07" stroke="#000" stroke-width="1.4"/>
<line x1="568.4" y1="37.71" x2="571.4" y2="37.71" stroke="#000" stroke-width="1.4"/>
<line x1="568.4" y1="26.36" x2="571.4" y2="26.36" stroke="#000" stroke-width="1.4"/>
<line x1="568.4" y1="15" x2="571.4" y2="15" stroke="#000" stroke-width="1.4"/>
<line x1="571.4" y1="174" x2="571.4" y2="177" stroke="#000" stroke-width="1.4"/>
<line x1="584.63" y1="174" x2="584.63" y2="177" stroke="#000" stroke-width="1.4"/>
<line x1="597.87" y1="174" x2="597.87" y2="177" stroke="#000" stroke-width="1.4"/>
<line x1="611.1" y1="174" x2="611.1" y2="177" stroke="#000" stroke-width="1.4"/>
<text transform="translate(591.25,25.8) scale(1,1.08)" font-size="9.5" text-anchor="middle">14 DAG</text>
<text transform="translate(581.22,180.8) rotate(-90) scale(1,1.1)" font-size="9.35" text-anchor="end">Col-0</text>
<text transform="translate(594.45,180.8) rotate(-90) scale(1,1.1)" font-size="9.35" text-anchor="end">CKX1ox</text>
<text transform="translate(607.68,180.8) rotate(-90) scale(1,1.1)" font-size="9.35" text-anchor="end" font-style="italic">ahk2 ahk3</text>
<line x1="636.82" y1="133.23" x2="636.82" y2="127.04" stroke="#000" stroke-width="1.15"/>
<line x1="633.82" y1="127.04" x2="639.82" y2="127.04" stroke="#000" stroke-width="1.35"/>
<rect x="632.17" y="133.23" width="9.3" height="40.77" fill="#ffffff" stroke="#000" stroke-width="1.25"/>
<circle cx="636.82" cy="110.12" r="2.05" fill="#ffffff" stroke="#000" stroke-width="1.15"/>
<circle cx="636.82" cy="129.31" r="2.05" fill="#ffffff" stroke="#000" stroke-width="1.15"/>
<circle cx="636.82" cy="132.38" r="2.05" fill="#ffffff" stroke="#000" stroke-width="1.15"/>
<circle cx="636.82" cy="145.21" r="2.05" fill="#ffffff" stroke="#000" stroke-width="1.15"/>
<circle cx="636.82" cy="148.79" r="2.05" fill="#ffffff" stroke="#000" stroke-width="1.15"/>
<line x1="650.05" y1="141.29" x2="650.05" y2="132.89" stroke="#000" stroke-width="1.15"/>
<line x1="647.05" y1="132.89" x2="653.05" y2="132.89" stroke="#000" stroke-width="1.35"/>
<rect x="645.4" y="141.29" width="9.3" height="32.71" fill="#cc0000" stroke="#000" stroke-width="1.25"/>
<circle cx="650.05" cy="112.9" r="2.05" fill="#cc0000" stroke="#000" stroke-width="1.15"/>
<circle cx="650.05" cy="135.22" r="2.05" fill="#cc0000" stroke="#000" stroke-width="1.15"/>
<circle cx="650.05" cy="145.21" r="2.05" fill="#cc0000" stroke="#000" stroke-width="1.15"/>
<circle cx="650.05" cy="149.3" r="2.05" fill="#cc0000" stroke="#000" stroke-width="1.15"/>
<circle cx="650.05" cy="163.61" r="2.05" fill="#cc0000" stroke="#000" stroke-width="1.15"/>
<line x1="663.28" y1="158.21" x2="663.28" y2="154.98" stroke="#000" stroke-width="1.15"/>
<line x1="660.28" y1="154.98" x2="666.28" y2="154.98" stroke="#000" stroke-width="1.35"/>
<rect x="658.63" y="158.21" width="9.3" height="15.79" fill="#fa6148" stroke="#000" stroke-width="1.25"/>
<circle cx="663.28" cy="150.38" r="2.05" fill="#fa6148" stroke="#000" stroke-width="1.15"/>
<circle cx="663.28" cy="156.62" r="2.05" fill="#fa6148" stroke="#000" stroke-width="1.15"/>
<circle cx="663.28" cy="160.49" r="2.05" fill="#fa6148" stroke="#000" stroke-width="1.15"/>
<circle cx="663.28" cy="163.61" r="2.05" fill="#fa6148" stroke="#000" stroke-width="1.15"/>
<path d="M664.00,135.00l-2.40,-0.00M664.00,135.00l-0.74,-2.28M664.00,135.00l1.94,-1.41M664.00,135.00l1.94,1.41M664.00,135.00l-0.74,2.28" stroke="#000" stroke-width="1.15" stroke-linecap="round" fill="none"/>
<path d="M664.00,141.60l-2.40,-0.00M664.00,141.60l-0.74,-2.28M664.00,141.60l1.94,-1.41M664.00,141.60l1.94,1.41M664.00,141.60l-0.74,2.28" stroke="#000" stroke-width="1.15" stroke-linecap="round" fill="none"/>
<path d="M630.2,174 V15 H669.9 V174 Z" fill="none" stroke="#000" stroke-width="1.4"/>
<line x1="627.2" y1="174" x2="630.2" y2="174" stroke="#000" stroke-width="1.4"/>
<line x1="627.2" y1="162.64" x2="630.2" y2="162.64" stroke="#000" stroke-width="1.4"/>
<line x1="627.2" y1="151.29" x2="630.2" y2="151.29" stroke="#000" stroke-width="1.4"/>
<line x1="627.2" y1="139.93" x2="630.2" y2="139.93" stroke="#000" stroke-width="1.4"/>
<line x1="627.2" y1="128.57" x2="630.2" y2="128.57" stroke="#000" stroke-width="1.4"/>
<line x1="627.2" y1="117.21" x2="630.2" y2="117.21" stroke="#000" stroke-width="1.4"/>
<line x1="627.2" y1="105.86" x2="630.2" y2="105.86" stroke="#000" stroke-width="1.4"/>
<line x1="627.2" y1="94.5" x2="630.2" y2="94.5" stroke="#000" stroke-width="1.4"/>
<line x1="627.2" y1="83.14" x2="630.2" y2="83.14" stroke="#000" stroke-width="1.4"/>
<line x1="627.2" y1="71.79" x2="630.2" y2="71.79" stroke="#000" stroke-width="1.4"/>
<line x1="627.2" y1="60.43" x2="630.2" y2="60.43" stroke="#000" stroke-width="1.4"/>
<line x1="627.2" y1="49.07" x2="630.2" y2="49.07" stroke="#000" stroke-width="1.4"/>
<line x1="627.2" y1="37.71" x2="630.2" y2="37.71" stroke="#000" stroke-width="1.4"/>
<line x1="627.2" y1="26.36" x2="630.2" y2="26.36" stroke="#000" stroke-width="1.4"/>
<line x1="627.2" y1="15" x2="630.2" y2="15" stroke="#000" stroke-width="1.4"/>
<line x1="630.2" y1="174" x2="630.2" y2="177" stroke="#000" stroke-width="1.4"/>
<line x1="643.43" y1="174" x2="643.43" y2="177" stroke="#000" stroke-width="1.4"/>
<line x1="656.67" y1="174" x2="656.67" y2="177" stroke="#000" stroke-width="1.4"/>
<line x1="669.9" y1="174" x2="669.9" y2="177" stroke="#000" stroke-width="1.4"/>
<text transform="translate(650.05,25.8) scale(1,1.08)" font-size="9.5" text-anchor="middle">21 DAG</text>
<text transform="translate(640.02,180.8) rotate(-90) scale(1,1.1)" font-size="9.35" text-anchor="end">Col-0</text>
<text transform="translate(653.25,180.8) rotate(-90) scale(1,1.1)" font-size="9.35" text-anchor="end">CKX1ox</text>
<text transform="translate(666.48,180.8) rotate(-90) scale(1,1.1)" font-size="9.35" text-anchor="end" font-style="italic">ahk2 ahk3</text>
<line x1="284.12" y1="436.29" x2="284.12" y2="427.89" stroke="#000" stroke-width="1.15"/>
<line x1="281.12" y1="427.89" x2="287.12" y2="427.89" stroke="#000" stroke-width="1.35"/>
<rect x="279.47" y="436.29" width="9.3" height="37.71" fill="#ffffff" stroke="#000" stroke-width="1.25"/>
<circle cx="284.12" cy="410.08" r="2.05" fill="#ffffff" stroke="#000" stroke-width="1.15"/>
<circle cx="284.12" cy="428.21" r="2.05" fill="#ffffff" stroke="#000" stroke-width="1.15"/>
<circle cx="284.12" cy="430.59" r="2.05" fill="#ffffff" stroke="#000" stroke-width="1.15"/>
<circle cx="284.12" cy="455.11" r="2.05" fill="#ffffff" stroke="#000" stroke-width="1.15"/>
<circle cx="284.12" cy="456.61" r="2.05" fill="#ffffff" stroke="#000" stroke-width="1.15"/>
<line x1="297.35" y1="458.99" x2="297.35" y2="454.79" stroke="#000" stroke-width="1.15"/>
<line x1="294.35" y1="454.79" x2="300.35" y2="454.79" stroke="#000" stroke-width="1.35"/>
<rect x="292.7" y="458.99" width="9.3" height="15.01" fill="#cc0000" stroke="#000" stroke-width="1.25"/>
<circle cx="297.35" cy="444.58" r="2.05" fill="#cc0000" stroke="#000" stroke-width="1.15"/>
<circle cx="297.35" cy="458.2" r="2.05" fill="#cc0000" stroke="#000" stroke-width="1.15"/>
<circle cx="297.35" cy="463.6" r="2.05" fill="#cc0000" stroke="#000" stroke-width="1.15"/>
<circle cx="297.35" cy="469.1" r="2.05" fill="#cc0000" stroke="#000" stroke-width="1.15"/>
<line x1="310.58" y1="456.61" x2="310.58" y2="452.69" stroke="#000" stroke-width="1.15"/>
<line x1="307.58" y1="452.69" x2="313.58" y2="452.69" stroke="#000" stroke-width="1.35"/>
<rect x="305.93" y="456.61" width="9.3" height="17.39" fill="#fa6148" stroke="#000" stroke-width="1.25"/>
<circle cx="310.58" cy="444.9" r="2.05" fill="#fa6148" stroke="#000" stroke-width="1.15"/>
<circle cx="310.58" cy="450.4" r="2.05" fill="#fa6148" stroke="#000" stroke-width="1.15"/>
<circle cx="310.58" cy="458.99" r="2.05" fill="#fa6148" stroke="#000" stroke-width="1.15"/>
<circle cx="310.58" cy="462.11" r="2.05" fill="#fa6148" stroke="#000" stroke-width="1.15"/>
<circle cx="310.58" cy="465.51" r="2.05" fill="#fa6148" stroke="#000" stroke-width="1.15"/>
<path d="M277.5,474 V315 H317.2 V474 Z" fill="none" stroke="#000" stroke-width="1.4"/>
<line x1="274.5" y1="474" x2="277.5" y2="474" stroke="#000" stroke-width="1.4"/>
<line x1="274.5" y1="458.1" x2="277.5" y2="458.1" stroke="#000" stroke-width="1.4"/>
<line x1="274.5" y1="442.2" x2="277.5" y2="442.2" stroke="#000" stroke-width="1.4"/>
<line x1="274.5" y1="426.3" x2="277.5" y2="426.3" stroke="#000" stroke-width="1.4"/>
<line x1="274.5" y1="410.4" x2="277.5" y2="410.4" stroke="#000" stroke-width="1.4"/>
<line x1="274.5" y1="394.5" x2="277.5" y2="394.5" stroke="#000" stroke-width="1.4"/>
<line x1="274.5" y1="378.6" x2="277.5" y2="378.6" stroke="#000" stroke-width="1.4"/>
<line x1="274.5" y1="362.7" x2="277.5" y2="362.7" stroke="#000" stroke-width="1.4"/>
<line x1="274.5" y1="346.8" x2="277.5" y2="346.8" stroke="#000" stroke-width="1.4"/>
<line x1="274.5" y1="330.9" x2="277.5" y2="330.9" stroke="#000" stroke-width="1.4"/>
<line x1="274.5" y1="315" x2="277.5" y2="315" stroke="#000" stroke-width="1.4"/>
<line x1="277.5" y1="474" x2="277.5" y2="477" stroke="#000" stroke-width="1.4"/>
<line x1="290.73" y1="474" x2="290.73" y2="477" stroke="#000" stroke-width="1.4"/>
<line x1="303.97" y1="474" x2="303.97" y2="477" stroke="#000" stroke-width="1.4"/>
<line x1="317.2" y1="474" x2="317.2" y2="477" stroke="#000" stroke-width="1.4"/>
<text transform="translate(297.35,325.8) scale(1,1.08)" font-size="9.5" text-anchor="middle">7 DAG</text>
<text transform="translate(287.32,480.8) rotate(-90) scale(1,1.1)" font-size="9.35" text-anchor="end">Col-0</text>
<text transform="translate(300.55,480.8) rotate(-90) scale(1,1.1)" font-size="9.35" text-anchor="end">CKX1ox</text>
<text transform="translate(313.78,480.8) rotate(-90) scale(1,1.1)" font-size="9.35" text-anchor="end" font-style="italic">ahk2 ahk3</text>
<text transform="translate(268.9,477.5) scale(1,1.08)" font-size="9.5" text-anchor="end">0</text>
<text transform="translate(268.9,461.6) scale(1,1.08)" font-size="9.5" text-anchor="end">50</text>
<text transform="translate(268.9,445.7) scale(1,1.08)" font-size="9.5" text-anchor="end">100</text>
<text transform="translate(268.9,429.8) scale(1,1.08)" font-size="9.5" text-anchor="end">150</text>
<text transform="translate(268.9,413.9) scale(1,1.08)" font-size="9.5" text-anchor="end">200</text>
<text transform="translate(268.9,398) scale(1,1.08)" font-size="9.5" text-anchor="end">250</text>
<text transform="translate(268.9,382.1) scale(1,1.08)" font-size="9.5" text-anchor="end">300</text>
<text transform="translate(268.9,366.2) scale(1,1.08)" font-size="9.5" text-anchor="end">350</text>
<text transform="translate(268.9,350.3) scale(1,1.08)" font-size="9.5" text-anchor="end">400</text>
<text transform="translate(268.9,334.4) scale(1,1.08)" font-size="9.5" text-anchor="end">450</text>
<text transform="translate(268.9,318.5) scale(1,1.08)" font-size="9.5" text-anchor="end">500</text>
<text transform="translate(247.4,433.4) rotate(-90) scale(1,1.08)" font-size="9.8">GA<tspan font-size="6" dy="1.3">51</tspan><tspan dy="-1.3"> [fmol/g FW]</tspan></text>
<line x1="342.72" y1="450.4" x2="342.72" y2="437.91" stroke="#000" stroke-width="1.15"/>
<line x1="339.72" y1="437.91" x2="345.72" y2="437.91" stroke="#000" stroke-width="1.35"/>
<rect x="338.07" y="450.4" width="9.3" height="23.6" fill="#ffffff" stroke="#000" stroke-width="1.25"/>
<circle cx="342.72" cy="402" r="2.05" fill="#ffffff" stroke="#000" stroke-width="1.15"/>
<circle cx="342.72" cy="459.69" r="2.05" fill="#ffffff" stroke="#000" stroke-width="1.15"/>
<circle cx="342.72" cy="461.28" r="2.05" fill="#ffffff" stroke="#000" stroke-width="1.15"/>
<circle cx="342.72" cy="466.81" r="2.05" fill="#ffffff" stroke="#000" stroke-width="1.15"/>
<line x1="355.95" y1="452.69" x2="355.95" y2="447.7" stroke="#000" stroke-width="1.15"/>
<line x1="352.95" y1="447.7" x2="358.95" y2="447.7" stroke="#000" stroke-width="1.35"/>
<rect x="351.3" y="452.69" width="9.3" height="21.31" fill="#cc0000" stroke="#000" stroke-width="1.25"/>
<circle cx="355.95" cy="447.7" r="2.05" fill="#cc0000" stroke="#000" stroke-width="1.15"/>
<circle cx="355.95" cy="449.9" r="2.05" fill="#cc0000" stroke="#000" stroke-width="1.15"/>
<circle cx="355.95" cy="454.28" r="2.05" fill="#cc0000" stroke="#000" stroke-width="1.15"/>
<circle cx="355.95" cy="462.11" r="2.05" fill="#cc0000" stroke="#000" stroke-width="1.15"/>
<line x1="369.18" y1="447.61" x2="369.18" y2="441.31" stroke="#000" stroke-width="1.15"/>
<line x1="366.18" y1="441.31" x2="372.18" y2="441.31" stroke="#000" stroke-width="1.35"/>
<rect x="364.53" y="447.61" width="9.3" height="26.39" fill="#fa6148" stroke="#000" stroke-width="1.25"/>
<circle cx="369.18" cy="431.2" r="2.05" fill="#fa6148" stroke="#000" stroke-width="1.15"/>
<circle cx="369.18" cy="436" r="2.05" fill="#fa6148" stroke="#000" stroke-width="1.15"/>
<circle cx="369.18" cy="451.2" r="2.05" fill="#fa6148" stroke="#000" stroke-width="1.15"/>
<circle cx="369.18" cy="455.11" r="2.05" fill="#fa6148" stroke="#000" stroke-width="1.15"/>
<circle cx="369.18" cy="462.62" r="2.05" fill="#fa6148" stroke="#000" stroke-width="1.15"/>
<path d="M336.1,474 V315 H375.8 V474 Z" fill="none" stroke="#000" stroke-width="1.4"/>
<line x1="333.1" y1="474" x2="336.1" y2="474" stroke="#000" stroke-width="1.4"/>
<line x1="333.1" y1="458.1" x2="336.1" y2="458.1" stroke="#000" stroke-width="1.4"/>
<line x1="333.1" y1="442.2" x2="336.1" y2="442.2" stroke="#000" stroke-width="1.4"/>
<line x1="333.1" y1="426.3" x2="336.1" y2="426.3" stroke="#000" stroke-width="1.4"/>
<line x1="333.1" y1="410.4" x2="336.1" y2="410.4" stroke="#000" stroke-width="1.4"/>
<line x1="333.1" y1="394.5" x2="336.1" y2="394.5" stroke="#000" stroke-width="1.4"/>
<line x1="333.1" y1="378.6" x2="336.1" y2="378.6" stroke="#000" stroke-width="1.4"/>
<line x1="333.1" y1="362.7" x2="336.1" y2="362.7" stroke="#000" stroke-width="1.4"/>
<line x1="333.1" y1="346.8" x2="336.1" y2="346.8" stroke="#000" stroke-width="1.4"/>
<line x1="333.1" y1="330.9" x2="336.1" y2="330.9" stroke="#000" stroke-width="1.4"/>
<line x1="333.1" y1="315" x2="336.1" y2="315" stroke="#000" stroke-width="1.4"/>
<line x1="336.1" y1="474" x2="336.1" y2="477" stroke="#000" stroke-width="1.4"/>
<line x1="349.33" y1="474" x2="349.33" y2="477" stroke="#000" stroke-width="1.4"/>
<line x1="362.57" y1="474" x2="362.57" y2="477" stroke="#000" stroke-width="1.4"/>
<line x1="375.8" y1="474" x2="375.8" y2="477" stroke="#000" stroke-width="1.4"/>
<text transform="translate(355.95,325.8) scale(1,1.08)" font-size="9.5" text-anchor="middle">14 DAG</text>
<text transform="translate(345.92,480.8) rotate(-90) scale(1,1.1)" font-size="9.35" text-anchor="end">Col-0</text>
<text transform="translate(359.15,480.8) rotate(-90) scale(1,1.1)" font-size="9.35" text-anchor="end">CKX1ox</text>
<text transform="translate(372.38,480.8) rotate(-90) scale(1,1.1)" font-size="9.35" text-anchor="end" font-style="italic">ahk2 ahk3</text>
<line x1="401.52" y1="468.4" x2="401.52" y2="466.21" stroke="#000" stroke-width="1.15"/>
<line x1="398.52" y1="466.21" x2="404.52" y2="466.21" stroke="#000" stroke-width="1.35"/>
<rect x="396.87" y="468.4" width="9.3" height="5.6" fill="#ffffff" stroke="#000" stroke-width="1.25"/>
<circle cx="401.52" cy="463.28" r="2.05" fill="#ffffff" stroke="#000" stroke-width="1.15"/>
<circle cx="401.52" cy="468.4" r="2.05" fill="#ffffff" stroke="#000" stroke-width="1.15"/>
<circle cx="401.52" cy="471.9" r="2.05" fill="#ffffff" stroke="#000" stroke-width="1.15"/>
<line x1="414.75" y1="405.95" x2="414.75" y2="389.89" stroke="#000" stroke-width="1.15"/>
<line x1="411.75" y1="389.89" x2="417.75" y2="389.89" stroke="#000" stroke-width="1.35"/>
<rect x="410.1" y="405.95" width="9.3" height="68.05" fill="#cc0000" stroke="#000" stroke-width="1.25"/>
<circle cx="414.75" cy="363.4" r="2.05" fill="#cc0000" stroke="#000" stroke-width="1.15"/>
<circle cx="414.75" cy="371.51" r="2.05" fill="#cc0000" stroke="#000" stroke-width="1.15"/>
<circle cx="414.75" cy="421.53" r="2.05" fill="#cc0000" stroke="#000" stroke-width="1.15"/>
<circle cx="414.75" cy="434.89" r="2.05" fill="#cc0000" stroke="#000" stroke-width="1.15"/>
<circle cx="414.75" cy="436.32" r="2.05" fill="#cc0000" stroke="#000" stroke-width="1.15"/>
<path d="M415.10,353.20l-2.40,-0.00M415.10,353.20l-0.74,-2.28M415.10,353.20l1.94,-1.41M415.10,353.20l1.94,1.41M415.10,353.20l-0.74,2.28" stroke="#000" stroke-width="1.15" stroke-linecap="round" fill="none"/>
<line x1="427.98" y1="378.6" x2="427.98" y2="369.6" stroke="#000" stroke-width="1.15"/>
<line x1="424.98" y1="369.6" x2="430.98" y2="369.6" stroke="#000" stroke-width="1.35"/>
<rect x="423.33" y="378.6" width="9.3" height="95.4" fill="#fa6148" stroke="#000" stroke-width="1.25"/>
<circle cx="427.98" cy="357.39" r="2.05" fill="#fa6148" stroke="#000" stroke-width="1.15"/>
<circle cx="427.98" cy="366.99" r="2.05" fill="#fa6148" stroke="#000" stroke-width="1.15"/>
<circle cx="427.98" cy="373.83" r="2.05" fill="#fa6148" stroke="#000" stroke-width="1.15"/>
<circle cx="427.98" cy="388.3" r="2.05" fill="#fa6148" stroke="#000" stroke-width="1.15"/>
<circle cx="427.98" cy="405.63" r="2.05" fill="#fa6148" stroke="#000" stroke-width="1.15"/>
<path d="M427.90,341.70l-2.40,-0.00M427.90,341.70l-0.74,-2.28M427.90,341.70l1.94,-1.41M427.90,341.70l1.94,1.41M427.90,341.70l-0.74,2.28" stroke="#000" stroke-width="1.15" stroke-linecap="round" fill="none"/>
<path d="M427.90,348.30l-2.40,-0.00M427.90,348.30l-0.74,-2.28M427.90,348.30l1.94,-1.41M427.90,348.30l1.94,1.41M427.90,348.30l-0.74,2.28" stroke="#000" stroke-width="1.15" stroke-linecap="round" fill="none"/>
<path d="M394.9,474 V315 H434.6 V474 Z" fill="none" stroke="#000" stroke-width="1.4"/>
<line x1="391.9" y1="474" x2="394.9" y2="474" stroke="#000" stroke-width="1.4"/>
<line x1="391.9" y1="458.1" x2="394.9" y2="458.1" stroke="#000" stroke-width="1.4"/>
<line x1="391.9" y1="442.2" x2="394.9" y2="442.2" stroke="#000" stroke-width="1.4"/>
<line x1="391.9" y1="426.3" x2="394.9" y2="426.3" stroke="#000" stroke-width="1.4"/>
<line x1="391.9" y1="410.4" x2="394.9" y2="410.4" stroke="#000" stroke-width="1.4"/>
<line x1="391.9" y1="394.5" x2="394.9" y2="394.5" stroke="#000" stroke-width="1.4"/>
<line x1="391.9" y1="378.6" x2="394.9" y2="378.6" stroke="#000" stroke-width="1.4"/>
<line x1="391.9" y1="362.7" x2="394.9" y2="362.7" stroke="#000" stroke-width="1.4"/>
<line x1="391.9" y1="346.8" x2="394.9" y2="346.8" stroke="#000" stroke-width="1.4"/>
<line x1="391.9" y1="330.9" x2="394.9" y2="330.9" stroke="#000" stroke-width="1.4"/>
<line x1="391.9" y1="315" x2="394.9" y2="315" stroke="#000" stroke-width="1.4"/>
<line x1="394.9" y1="474" x2="394.9" y2="477" stroke="#000" stroke-width="1.4"/>
<line x1="408.13" y1="474" x2="408.13" y2="477" stroke="#000" stroke-width="1.4"/>
<line x1="421.37" y1="474" x2="421.37" y2="477" stroke="#000" stroke-width="1.4"/>
<line x1="434.6" y1="474" x2="434.6" y2="477" stroke="#000" stroke-width="1.4"/>
<text transform="translate(414.75,325.8) scale(1,1.08)" font-size="9.5" text-anchor="middle">21 DAG</text>
<text transform="translate(404.72,480.8) rotate(-90) scale(1,1.1)" font-size="9.35" text-anchor="end">Col-0</text>
<text transform="translate(417.95,480.8) rotate(-90) scale(1,1.1)" font-size="9.35" text-anchor="end">CKX1ox</text>
<text transform="translate(431.18,480.8) rotate(-90) scale(1,1.1)" font-size="9.35" text-anchor="end" font-style="italic">ahk2 ahk3</text>
<line x1="519.42" y1="369.32" x2="519.42" y2="360.4" stroke="#000" stroke-width="1.15"/>
<line x1="516.42" y1="360.4" x2="522.42" y2="360.4" stroke="#000" stroke-width="1.35"/>
<rect x="514.77" y="369.32" width="9.3" height="104.68" fill="#ffffff" stroke="#000" stroke-width="1.25"/>
<circle cx="519.42" cy="350.69" r="2.05" fill="#ffffff" stroke="#000" stroke-width="1.15"/>
<circle cx="519.42" cy="358.11" r="2.05" fill="#ffffff" stroke="#000" stroke-width="1.15"/>
<circle cx="519.42" cy="368.71" r="2.05" fill="#ffffff" stroke="#000" stroke-width="1.15"/>
<circle cx="519.42" cy="399" r="2.05" fill="#ffffff" stroke="#000" stroke-width="1.15"/>
<line x1="532.65" y1="454.3" x2="532.65" y2="449.88" stroke="#000" stroke-width="1.15"/>
<line x1="529.65" y1="449.88" x2="535.65" y2="449.88" stroke="#000" stroke-width="1.35"/>
<rect x="528" y="454.3" width="9.3" height="19.7" fill="#cc0000" stroke="#000" stroke-width="1.25"/>
<circle cx="532.65" cy="447.99" r="2.05" fill="#cc0000" stroke="#000" stroke-width="1.15"/>
<circle cx="532.65" cy="450.9" r="2.05" fill="#cc0000" stroke="#000" stroke-width="1.15"/>
<circle cx="532.65" cy="453.51" r="2.05" fill="#cc0000" stroke="#000" stroke-width="1.15"/>
<circle cx="532.65" cy="466.01" r="2.05" fill="#cc0000" stroke="#000" stroke-width="1.15"/>
<path d="M533.40,425.40l-2.40,-0.00M533.40,425.40l-0.74,-2.28M533.40,425.40l1.94,-1.41M533.40,425.40l1.94,1.41M533.40,425.40l-0.74,2.28" stroke="#000" stroke-width="1.15" stroke-linecap="round" fill="none"/>
<path d="M533.40,432.00l-2.40,-0.00M533.40,432.00l-0.74,-2.28M533.40,432.00l1.94,-1.41M533.40,432.00l1.94,1.41M533.40,432.00l-0.74,2.28" stroke="#000" stroke-width="1.15" stroke-linecap="round" fill="none"/>
<path d="M533.40,438.60l-2.40,-0.00M533.40,438.60l-0.74,-2.28M533.40,438.60l1.94,-1.41M533.40,438.60l1.94,1.41M533.40,438.60l-0.74,2.28" stroke="#000" stroke-width="1.15" stroke-linecap="round" fill="none"/>
<line x1="545.88" y1="412.52" x2="545.88" y2="405.63" stroke="#000" stroke-width="1.15"/>
<line x1="542.88" y1="405.63" x2="548.88" y2="405.63" stroke="#000" stroke-width="1.35"/>
<rect x="541.23" y="412.52" width="9.3" height="61.48" fill="#fa6148" stroke="#000" stroke-width="1.25"/>
<circle cx="545.88" cy="399.4" r="2.05" fill="#fa6148" stroke="#000" stroke-width="1.15"/>
<circle cx="545.88" cy="402.49" r="2.05" fill="#fa6148" stroke="#000" stroke-width="1.15"/>
<circle cx="545.88" cy="421.8" r="2.05" fill="#fa6148" stroke="#000" stroke-width="1.15"/>
<circle cx="545.88" cy="432.09" r="2.05" fill="#fa6148" stroke="#000" stroke-width="1.15"/>
<path d="M546.20,389.80l-2.40,-0.00M546.20,389.80l-0.74,-2.28M546.20,389.80l1.94,-1.41M546.20,389.80l1.94,1.41M546.20,389.80l-0.74,2.28" stroke="#000" stroke-width="1.15" stroke-linecap="round" fill="none"/>
<path d="M512.8,474 V315 H552.5 V474 Z" fill="none" stroke="#000" stroke-width="1.4"/>
<line x1="509.8" y1="474" x2="512.8" y2="474" stroke="#000" stroke-width="1.4"/>
<line x1="509.8" y1="451.92" x2="512.8" y2="451.92" stroke="#000" stroke-width="1.4"/>
<line x1="509.8" y1="429.83" x2="512.8" y2="429.83" stroke="#000" stroke-width="1.4"/>
<line x1="509.8" y1="407.75" x2="512.8" y2="407.75" stroke="#000" stroke-width="1.4"/>
<line x1="509.8" y1="385.67" x2="512.8" y2="385.67" stroke="#000" stroke-width="1.4"/>
<line x1="509.8" y1="363.58" x2="512.8" y2="363.58" stroke="#000" stroke-width="1.4"/>
<line x1="509.8" y1="341.5" x2="512.8" y2="341.5" stroke="#000" stroke-width="1.4"/>
<line x1="509.8" y1="319.42" x2="512.8" y2="319.42" stroke="#000" stroke-width="1.4"/>
<line x1="512.8" y1="474" x2="512.8" y2="477" stroke="#000" stroke-width="1.4"/>
<line x1="526.03" y1="474" x2="526.03" y2="477" stroke="#000" stroke-width="1.4"/>
<line x1="539.27" y1="474" x2="539.27" y2="477" stroke="#000" stroke-width="1.4"/>
<line x1="552.5" y1="474" x2="552.5" y2="477" stroke="#000" stroke-width="1.4"/>
<text transform="translate(532.65,325.8) scale(1,1.08)" font-size="9.5" text-anchor="middle">7 DAG</text>
<text transform="translate(522.62,480.8) rotate(-90) scale(1,1.1)" font-size="9.35" text-anchor="end">Col-0</text>
<text transform="translate(535.85,480.8) rotate(-90) scale(1,1.1)" font-size="9.35" text-anchor="end">CKX1ox</text>
<text transform="translate(549.08,480.8) rotate(-90) scale(1,1.1)" font-size="9.35" text-anchor="end" font-style="italic">ahk2 ahk3</text>
<text transform="translate(504.2,477.5) scale(1,1.08)" font-size="9.5" text-anchor="end">0</text>
<text transform="translate(504.2,455.42) scale(1,1.08)" font-size="9.5" text-anchor="end">50</text>
<text transform="translate(504.2,433.33) scale(1,1.08)" font-size="9.5" text-anchor="end">100</text>
<text transform="translate(504.2,411.25) scale(1,1.08)" font-size="9.5" text-anchor="end">150</text>
<text transform="translate(504.2,389.17) scale(1,1.08)" font-size="9.5" text-anchor="end">200</text>
<text transform="translate(504.2,367.08) scale(1,1.08)" font-size="9.5" text-anchor="end">250</text>
<text transform="translate(504.2,345) scale(1,1.08)" font-size="9.5" text-anchor="end">300</text>
<text transform="translate(504.2,322.92) scale(1,1.08)" font-size="9.5" text-anchor="end">350</text>
<text transform="translate(482.7,433.4) rotate(-90) scale(1,1.08)" font-size="9.8">GA<tspan font-size="6" dy="1.3">34</tspan><tspan dy="-1.3"> [fmol/g FW]</tspan></text>
<line x1="578.02" y1="359.21" x2="578.02" y2="348.74" stroke="#000" stroke-width="1.15"/>
<line x1="575.02" y1="348.74" x2="581.02" y2="348.74" stroke="#000" stroke-width="1.35"/>
<rect x="573.37" y="359.21" width="9.3" height="114.79" fill="#ffffff" stroke="#000" stroke-width="1.25"/>
<circle cx="578.02" cy="333.9" r="2.05" fill="#ffffff" stroke="#000" stroke-width="1.15"/>
<circle cx="578.02" cy="342.52" r="2.05" fill="#ffffff" stroke="#000" stroke-width="1.15"/>
<circle cx="578.02" cy="350.33" r="2.05" fill="#ffffff" stroke="#000" stroke-width="1.15"/>
<circle cx="578.02" cy="375.73" r="2.05" fill="#ffffff" stroke="#000" stroke-width="1.15"/>
<circle cx="578.02" cy="391.32" r="2.05" fill="#ffffff" stroke="#000" stroke-width="1.15"/>
<rect x="586.6" y="458.98" width="9.3" height="15.02" fill="#cc0000" stroke="#000" stroke-width="1.25"/>
<circle cx="591.25" cy="456.2" r="2.05" fill="#cc0000" stroke="#000" stroke-width="1.15"/>
<circle cx="591.25" cy="458.98" r="2.05" fill="#cc0000" stroke="#000" stroke-width="1.15"/>
<circle cx="591.25" cy="460.22" r="2.05" fill="#cc0000" stroke="#000" stroke-width="1.15"/>
<path d="M591.60,433.40l-2.40,-0.00M591.60,433.40l-0.74,-2.28M591.60,433.40l1.94,-1.41M591.60,433.40l1.94,1.41M591.60,433.40l-0.74,2.28" stroke="#000" stroke-width="1.15" stroke-linecap="round" fill="none"/>
<path d="M591.60,440.00l-2.40,-0.00M591.60,440.00l-0.74,-2.28M591.60,440.00l1.94,-1.41M591.60,440.00l1.94,1.41M591.60,440.00l-0.74,2.28" stroke="#000" stroke-width="1.15" stroke-linecap="round" fill="none"/>
<path d="M591.60,446.60l-2.40,-0.00M591.60,446.60l-0.74,-2.28M591.60,446.60l1.94,-1.41M591.60,446.60l1.94,1.41M591.60,446.60l-0.74,2.28" stroke="#000" stroke-width="1.15" stroke-linecap="round" fill="none"/>
<line x1="604.48" y1="426.74" x2="604.48" y2="424.62" stroke="#000" stroke-width="1.15"/>
<line x1="601.48" y1="424.62" x2="607.48" y2="424.62" stroke="#000" stroke-width="1.35"/>
<rect x="599.83" y="426.74" width="9.3" height="47.26" fill="#fa6148" stroke="#000" stroke-width="1.25"/>
<circle cx="604.48" cy="417.6" r="2.05" fill="#fa6148" stroke="#000" stroke-width="1.15"/>
<circle cx="604.48" cy="422.77" r="2.05" fill="#fa6148" stroke="#000" stroke-width="1.15"/>
<circle cx="604.48" cy="431.69" r="2.05" fill="#fa6148" stroke="#000" stroke-width="1.15"/>
<path d="M604.80,407.50l-2.40,-0.00M604.80,407.50l-0.74,-2.28M604.80,407.50l1.94,-1.41M604.80,407.50l1.94,1.41M604.80,407.50l-0.74,2.28" stroke="#000" stroke-width="1.15" stroke-linecap="round" fill="none"/>
<path d="M571.4,474 V315 H611.1 V474 Z" fill="none" stroke="#000" stroke-width="1.4"/>
<line x1="568.4" y1="474" x2="571.4" y2="474" stroke="#000" stroke-width="1.4"/>
<line x1="568.4" y1="451.92" x2="571.4" y2="451.92" stroke="#000" stroke-width="1.4"/>
<line x1="568.4" y1="429.83" x2="571.4" y2="429.83" stroke="#000" stroke-width="1.4"/>
<line x1="568.4" y1="407.75" x2="571.4" y2="407.75" stroke="#000" stroke-width="1.4"/>
<line x1="568.4" y1="385.67" x2="571.4" y2="385.67" stroke="#000" stroke-width="1.4"/>
<line x1="568.4" y1="363.58" x2="571.4" y2="363.58" stroke="#000" stroke-width="1.4"/>
<line x1="568.4" y1="341.5" x2="571.4" y2="341.5" stroke="#000" stroke-width="1.4"/>
<line x1="568.4" y1="319.42" x2="571.4" y2="319.42" stroke="#000" stroke-width="1.4"/>
<line x1="571.4" y1="474" x2="571.4" y2="477" stroke="#000" stroke-width="1.4"/>
<line x1="584.63" y1="474" x2="584.63" y2="477" stroke="#000" stroke-width="1.4"/>
<line x1="597.87" y1="474" x2="597.87" y2="477" stroke="#000" stroke-width="1.4"/>
<line x1="611.1" y1="474" x2="611.1" y2="477" stroke="#000" stroke-width="1.4"/>
<text transform="translate(591.25,325.8) scale(1,1.08)" font-size="9.5" text-anchor="middle">14 DAG</text>
<text transform="translate(581.22,480.8) rotate(-90) scale(1,1.1)" font-size="9.35" text-anchor="end">Col-0</text>
<text transform="translate(594.45,480.8) rotate(-90) scale(1,1.1)" font-size="9.35" text-anchor="end">CKX1ox</text>
<text transform="translate(607.68,480.8) rotate(-90) scale(1,1.1)" font-size="9.35" text-anchor="end" font-style="italic">ahk2 ahk3</text>
<line x1="636.82" y1="454.3" x2="636.82" y2="453.46" stroke="#000" stroke-width="1.15"/>
<line x1="633.82" y1="453.46" x2="639.82" y2="453.46" stroke="#000" stroke-width="1.35"/>
<rect x="632.17" y="454.3" width="9.3" height="19.7" fill="#ffffff" stroke="#000" stroke-width="1.25"/>
<circle cx="636.82" cy="451.25" r="2.05" fill="#ffffff" stroke="#000" stroke-width="1.15"/>
<circle cx="636.82" cy="456.42" r="2.05" fill="#ffffff" stroke="#000" stroke-width="1.15"/>
<rect x="645.4" y="469.58" width="9.3" height="4.42" fill="#cc0000" stroke="#000" stroke-width="1.25"/>
<circle cx="650.05" cy="468.39" r="2.05" fill="#cc0000" stroke="#000" stroke-width="1.15"/>
<circle cx="650.05" cy="470.51" r="2.05" fill="#cc0000" stroke="#000" stroke-width="1.15"/>
<path d="M650.40,446.40l-2.40,-0.00M650.40,446.40l-0.74,-2.28M650.40,446.40l1.94,-1.41M650.40,446.40l1.94,1.41M650.40,446.40l-0.74,2.28" stroke="#000" stroke-width="1.15" stroke-linecap="round" fill="none"/>
<path d="M650.40,453.00l-2.40,-0.00M650.40,453.00l-0.74,-2.28M650.40,453.00l1.94,-1.41M650.40,453.00l1.94,1.41M650.40,453.00l-0.74,2.28" stroke="#000" stroke-width="1.15" stroke-linecap="round" fill="none"/>
<path d="M650.40,459.60l-2.40,-0.00M650.40,459.60l-0.74,-2.28M650.40,459.60l1.94,-1.41M650.40,459.60l1.94,1.41M650.40,459.60l-0.74,2.28" stroke="#000" stroke-width="1.15" stroke-linecap="round" fill="none"/>
<rect x="658.63" y="466.31" width="9.3" height="7.69" fill="#fa6148" stroke="#000" stroke-width="1.25"/>
<circle cx="663.28" cy="465.79" r="2.05" fill="#fa6148" stroke="#000" stroke-width="1.15"/>
<circle cx="663.28" cy="467.9" r="2.05" fill="#fa6148" stroke="#000" stroke-width="1.15"/>
<path d="M663.70,455.50l-2.40,-0.00M663.70,455.50l-0.74,-2.28M663.70,455.50l1.94,-1.41M663.70,455.50l1.94,1.41M663.70,455.50l-0.74,2.28" stroke="#000" stroke-width="1.15" stroke-linecap="round" fill="none"/>
<path d="M630.2,474 V315 H669.9 V474 Z" fill="none" stroke="#000" stroke-width="1.4"/>
<line x1="627.2" y1="474" x2="630.2" y2="474" stroke="#000" stroke-width="1.4"/>
<line x1="627.2" y1="451.92" x2="630.2" y2="451.92" stroke="#000" stroke-width="1.4"/>
<line x1="627.2" y1="429.83" x2="630.2" y2="429.83" stroke="#000" stroke-width="1.4"/>
<line x1="627.2" y1="407.75" x2="630.2" y2="407.75" stroke="#000" stroke-width="1.4"/>
<line x1="627.2" y1="385.67" x2="630.2" y2="385.67" stroke="#000" stroke-width="1.4"/>
<line x1="627.2" y1="363.58" x2="630.2" y2="363.58" stroke="#000" stroke-width="1.4"/>
<line x1="627.2" y1="341.5" x2="630.2" y2="341.5" stroke="#000" stroke-width="1.4"/>
<line x1="627.2" y1="319.42" x2="630.2" y2="319.42" stroke="#000" stroke-width="1.4"/>
<line x1="630.2" y1="474" x2="630.2" y2="477" stroke="#000" stroke-width="1.4"/>
<line x1="643.43" y1="474" x2="643.43" y2="477" stroke="#000" stroke-width="1.4"/>
<line x1="656.67" y1="474" x2="656.67" y2="477" stroke="#000" stroke-width="1.4"/>
<line x1="669.9" y1="474" x2="669.9" y2="477" stroke="#000" stroke-width="1.4"/>
<text transform="translate(650.05,325.8) scale(1,1.08)" font-size="9.5" text-anchor="middle">21 DAG</text>
<text transform="translate(640.02,480.8) rotate(-90) scale(1,1.1)" font-size="9.35" text-anchor="end">Col-0</text>
<text transform="translate(653.25,480.8) rotate(-90) scale(1,1.1)" font-size="9.35" text-anchor="end">CKX1ox</text>
<text transform="translate(666.48,480.8) rotate(-90) scale(1,1.1)" font-size="9.35" text-anchor="end" font-style="italic">ahk2 ahk3</text>
<text transform="translate(108,244.9) scale(1,1.08)" font-size="10.8" font-weight="bold">GA<tspan font-size="7.4" dy="2.1" dx="-0.5">24</tspan></text>
<text transform="translate(108,307.8) scale(1,1.08)" font-size="10.8" font-weight="bold">GA<tspan font-size="7.4" dy="2.1" dx="-0.5">15</tspan></text>
<text transform="translate(108,370.8) scale(1,1.08)" font-size="10.8" font-weight="bold">GA<tspan font-size="7.4" dy="2.1" dx="-0.5">12</tspan></text>
<text transform="translate(135.9,306.2) scale(1,1.05)" font-size="8.4">(n. d.)</text>
<text transform="translate(135.9,369.2) scale(1,1.05)" font-size="8.4">(n. d.)</text>
<text transform="translate(345.5,245.1) scale(1,1.08)" font-size="10.8" font-weight="bold">GA<tspan font-size="7.4" dy="2.1" dx="-0.5">9</tspan></text>
<text transform="translate(581.5,245.1) scale(1,1.08)" font-size="10.8" font-weight="bold">GA<tspan font-size="7.4" dy="2.1" dx="-0.5">4</tspan></text>
<text transform="translate(345.2,307.8) scale(1,1.08)" font-size="10.8" font-weight="bold">GA<tspan font-size="7.4" dy="2.1" dx="-0.5">51</tspan></text>
<text transform="translate(579.7,307.8) scale(1,1.08)" font-size="10.8" font-weight="bold">GA<tspan font-size="7.4" dy="2.1" dx="-0.5">34</tspan></text>
<line x1="214.4" y1="244" x2="255" y2="244" stroke="#000" stroke-width="2"/>
<path d="M261,244 L248.1,237.2 L252.4,244 L248.1,250.8 Z" fill="#000"/>
<line x1="450" y1="244" x2="490" y2="244" stroke="#000" stroke-width="2"/>
<path d="M496,244 L483.1,237.2 L487.4,244 L483.1,250.8 Z" fill="#000"/>
<line x1="120" y1="287.7" x2="120" y2="262.6" stroke="#000" stroke-width="2"/>
<path d="M120,256.6 L113.2,269.5 L120,265.20000000000005 L126.8,269.5 Z" fill="#000"/>
<line x1="120" y1="350.5" x2="120" y2="325" stroke="#000" stroke-width="2"/>
<path d="M120,319 L113.2,331.9 L120,327.6 L126.8,331.9 Z" fill="#000"/>
<line x1="355.5" y1="256.3" x2="355.5" y2="281.7" stroke="#000" stroke-width="2"/>
<path d="M355.5,287.7 L348.7,274.09999999999997 L355.5,278.5 L362.3,274.09999999999997 Z" fill="#000"/>
<line x1="591" y1="256.3" x2="591" y2="281.7" stroke="#000" stroke-width="2"/>
<path d="M591,287.7 L584.2,274.09999999999997 L591,278.5 L597.8,274.09999999999997 Z" fill="#000"/>
<text transform="translate(218.6,235) scale(1,1.05)" font-size="10.7">GA20ox</text>
<text transform="translate(456.4,235) scale(1,1.05)" font-size="10.7">GA3ox</text>
<text transform="translate(70.8,277) scale(1,1.05)" font-size="10.7">GA20ox</text>
<text transform="translate(70.8,340) scale(1,1.05)" font-size="10.7">GA20ox</text>
<text transform="translate(312.8,276) scale(1,1.05)" font-size="10.7">GA2ox</text>
<text transform="translate(548.4,276) scale(1,1.05)" font-size="10.7">GA2ox</text>
<text transform="translate(366.8,274.6) scale(1,1.05)" font-size="8.4">(deact.)</text>
<text transform="translate(602.4,274.6) scale(1,1.05)" font-size="8.4">(deact.)</text>
</svg>
</body></html>
